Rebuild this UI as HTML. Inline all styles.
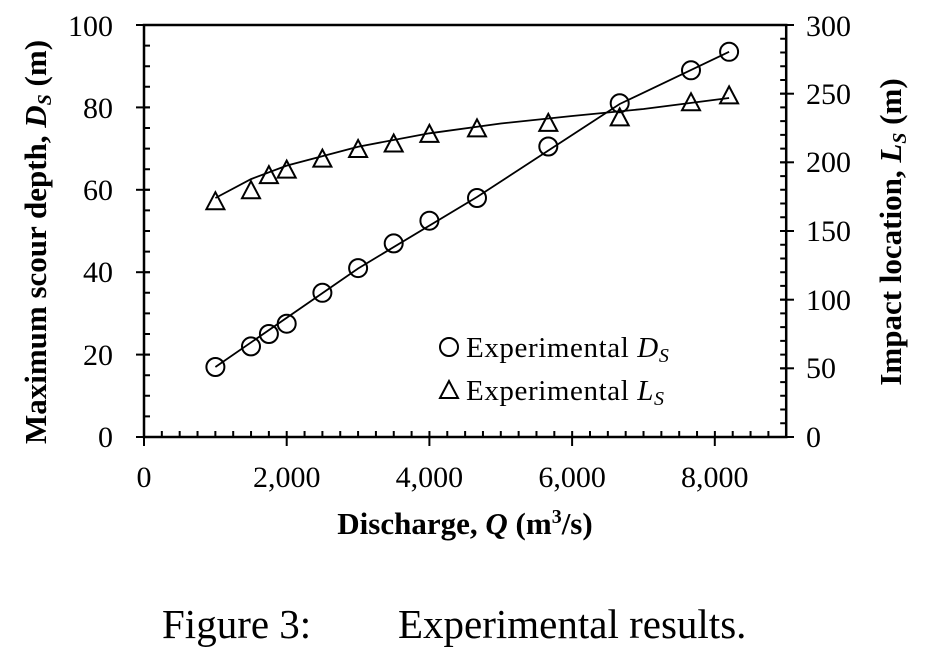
<!DOCTYPE html>
<html><head><meta charset="utf-8"><style>
body{margin:0;background:#fff;}
text{font-family:"Liberation Serif",serif;fill:#000;}
</style></head><body>
<svg width="930" height="664" viewBox="0 0 930 664" xmlns="http://www.w3.org/2000/svg">
<rect x="144" y="25" width="642.2" height="412" fill="none" stroke="#000" stroke-width="2.5"/>
<line x1="143" y1="434" x2="787" y2="434" stroke="#000" stroke-width="6" stroke-dasharray="2 15.84"/>
<line x1="147" y1="438" x2="147" y2="25" stroke="#000" stroke-width="6" stroke-dasharray="2 18.6"/>
<line x1="783.2" y1="438" x2="783.2" y2="25" stroke="#000" stroke-width="6" stroke-dasharray="2 11.733"/>
<g stroke="#000" stroke-width="2">
<line x1="144" y1="437" x2="144" y2="446"/><line x1="286.7" y1="437" x2="286.7" y2="446"/><line x1="429.4" y1="437" x2="429.4" y2="446"/><line x1="572.1" y1="437" x2="572.1" y2="446"/><line x1="714.8" y1="437" x2="714.8" y2="446"/>
<line x1="136" y1="437" x2="150" y2="437"/><line x1="136" y1="354.6" x2="150" y2="354.6"/><line x1="136" y1="272.2" x2="150" y2="272.2"/><line x1="136" y1="189.8" x2="150" y2="189.8"/><line x1="136" y1="107.4" x2="150" y2="107.4"/><line x1="136" y1="25" x2="150" y2="25"/>
<line x1="780" y1="437" x2="794" y2="437"/><line x1="780" y1="368.3" x2="794" y2="368.3"/><line x1="780" y1="299.7" x2="794" y2="299.7"/><line x1="780" y1="231" x2="794" y2="231"/><line x1="780" y1="162.3" x2="794" y2="162.3"/><line x1="780" y1="93.7" x2="794" y2="93.7"/><line x1="780" y1="25" x2="794" y2="25"/>
</g>
<g font-size="30" text-anchor="middle">
<text x="144" y="487">0</text><text x="286.7" y="487">2,000</text><text x="429.4" y="487">4,000</text><text x="572.1" y="487">6,000</text><text x="714.8" y="487">8,000</text>
</g>
<g font-size="30" text-anchor="end">
<text x="113" y="447">0</text><text x="113" y="365">20</text><text x="113" y="282">40</text><text x="113" y="200">60</text><text x="113" y="118">80</text><text x="113" y="36">100</text>
</g>
<g font-size="30">
<text x="806" y="447">0</text><text x="806" y="378">50</text><text x="806" y="310">100</text><text x="806" y="241">150</text><text x="806" y="172">200</text><text x="806" y="104">250</text><text x="806" y="36">300</text>
</g>
<path d="M215.4,367 L358.1,268.5 L477,197 L619.7,104 L729.1,51.8" fill="none" stroke="#000" stroke-width="1.8"/>
<path d="M215.4,198 L251,179.1 L286.7,165.6 L358.1,146.7 L429.4,133.3 L500.8,123.5 L572.1,116 L643.5,109 L729.1,98" fill="none" stroke="#000" stroke-width="1.8"/>
<g fill="none" stroke="#000" stroke-width="2">
<circle cx="215.4" cy="367" r="9"/><circle cx="251" cy="346.4" r="9"/><circle cx="268.9" cy="334" r="9"/><circle cx="286.7" cy="323.7" r="9"/><circle cx="322.4" cy="292.8" r="9"/><circle cx="358.1" cy="268.1" r="9"/><circle cx="393.7" cy="243.4" r="9"/><circle cx="429.4" cy="220.7" r="9"/><circle cx="477" cy="198" r="9"/><circle cx="548.3" cy="146.5" r="9"/><circle cx="619.7" cy="103.3" r="9"/><circle cx="691" cy="70.3" r="9"/><circle cx="729.1" cy="51.8" r="9"/>
<polygon points="215.4,192.2 206.4,209.2 224.4,209.2"/>
<polygon points="251,181.2 242,198.2 260,198.2"/>
<polygon points="268.9,166.1 259.9,183.1 277.9,183.1"/>
<polygon points="286.7,160.6 277.7,177.6 295.7,177.6"/>
<polygon points="322.4,149.6 313.4,166.6 331.4,166.6"/>
<polygon points="358.1,140 349.1,157 367.1,157"/>
<polygon points="393.7,134.5 384.7,151.5 402.7,151.5"/>
<polygon points="429.4,124.9 420.4,141.9 438.4,141.9"/>
<polygon points="477,119.4 468,136.4 486,136.4"/>
<polygon points="548.3,113.9 539.3,130.9 557.3,130.9"/>
<polygon points="619.7,108.4 610.7,125.4 628.7,125.4"/>
<polygon points="691,93.3 682,110.3 700,110.3"/>
<polygon points="729.1,86.4 720.1,103.4 738.1,103.4"/>
<circle cx="449" cy="347" r="9"/>
<polygon points="449,381 440,398 458,398"/>
</g>
<text x="466" y="357" font-size="29" letter-spacing="0.6">Experimental <tspan font-style="italic">D</tspan><tspan font-style="italic" font-size="20" dy="5">S</tspan></text>
<text x="466" y="400" font-size="29" letter-spacing="0.6">Experimental <tspan font-style="italic">L</tspan><tspan font-style="italic" font-size="20" dy="5">S</tspan></text>
<text x="465" y="534" font-size="31" font-weight="bold" text-anchor="middle">Discharge, <tspan font-style="italic">Q</tspan> (m<tspan font-size="20" dy="-11">3</tspan><tspan dy="11">/s)</tspan></text>
<text transform="translate(46,242) rotate(-90)" font-size="31" font-weight="bold" text-anchor="middle">Maximum scour depth, <tspan font-style="italic">D</tspan><tspan font-style="italic" font-size="20" dy="5">S</tspan><tspan dy="-5"> (m)</tspan></text>
<text transform="translate(901,232) rotate(-90)" font-size="31" font-weight="bold" text-anchor="middle">Impact location, <tspan font-style="italic">L</tspan><tspan font-style="italic" font-size="20" dy="5">S</tspan><tspan dy="-5"> (m)</tspan></text>
<text x="162" y="638" font-size="41">Figure 3:</text><text x="398" y="638" font-size="41">Experimental results.</text>
</svg>
</body></html>
